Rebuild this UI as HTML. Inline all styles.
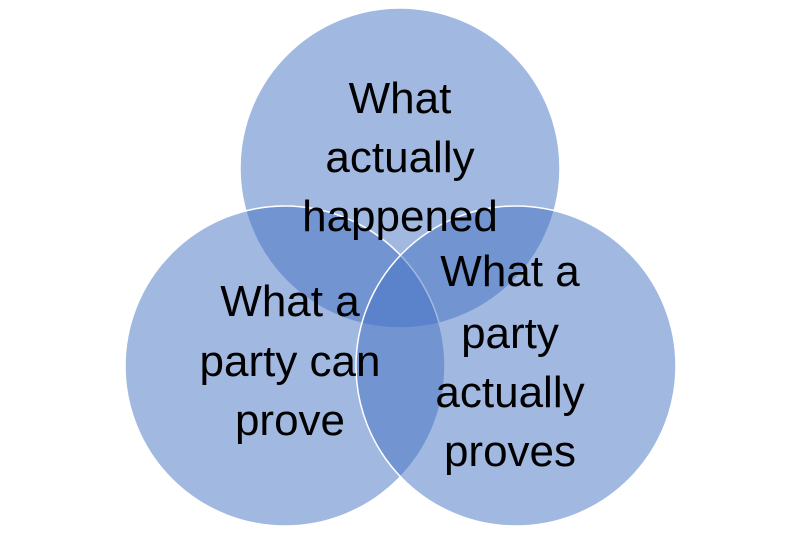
<!DOCTYPE html>
<html><head><style>
html,body{margin:0;padding:0;background:#fff;}
svg{display:block;}
text{font-family:"Liberation Sans",sans-serif;font-size:44px;fill:#000;text-anchor:middle;}
</style></head><body>
<svg width="800" height="533" viewBox="0 0 800 533">
<g fill="#4472c4" fill-opacity="0.5" stroke="#fff" stroke-width="1.5">
<circle cx="400" cy="168" r="160"/>
<circle cx="285" cy="366" r="160"/>
<circle cx="516" cy="366" r="160"/>
</g>
<text x="400" y="113">What</text>
<text x="400" y="172">actually</text>
<text x="400" y="231">happened</text>
<text x="290" y="316">What a</text>
<text x="290" y="376">party can</text>
<text x="290" y="435">prove</text>
<text x="510" y="286">What a</text>
<text x="510" y="348">party</text>
<text x="510" y="407">actually</text>
<text x="510" y="466">proves</text>
</svg>
</body></html>
